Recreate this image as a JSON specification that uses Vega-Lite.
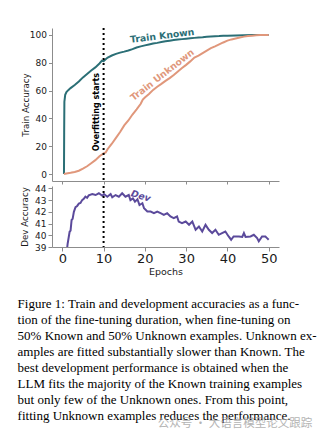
{
  "$schema": "https://vega.github.io/schema/vega-lite/v6.json",
  "padding": {"left": 17, "top": 27, "right": 4, "bottom": 4},
  "config": {
    "view": {"stroke": null},
    "font": "DejaVu Sans",
    "axis": {"grid": false, "domainColor": "#8c8c8c", "tickColor": "#8c8c8c", "labelColor": "#1a1a1a", "titleColor": "#1a1a1a", "titleFontWeight": "normal", "labelFont": "DejaVu Sans", "titleFont": "DejaVu Sans", "labelOverlap": false}
  },
  "columns": 1,
  "bounds": "flush",
  "spacing": 5,
  "concat": [
    {
      "width": 227,
      "height": 153,
      "layer": [
        {
          "data": {"values": [
            {"series": "Train Known", "epoch": 0.4, "acc": 0},
            {"series": "Train Known", "epoch": 0.45, "acc": 30},
            {"series": "Train Known", "epoch": 0.5, "acc": 52},
            {"series": "Train Known", "epoch": 0.7, "acc": 57},
            {"series": "Train Known", "epoch": 1.0, "acc": 59},
            {"series": "Train Known", "epoch": 1.5, "acc": 60.5},
            {"series": "Train Known", "epoch": 2, "acc": 61.8},
            {"series": "Train Known", "epoch": 3, "acc": 64},
            {"series": "Train Known", "epoch": 4, "acc": 66.5},
            {"series": "Train Known", "epoch": 5, "acc": 69.5},
            {"series": "Train Known", "epoch": 6, "acc": 72},
            {"series": "Train Known", "epoch": 7, "acc": 74.5},
            {"series": "Train Known", "epoch": 8, "acc": 76.7},
            {"series": "Train Known", "epoch": 9, "acc": 79.5},
            {"series": "Train Known", "epoch": 9.6, "acc": 81.5},
            {"series": "Train Known", "epoch": 10.0, "acc": 81.2},
            {"series": "Train Known", "epoch": 10.5, "acc": 82.6},
            {"series": "Train Known", "epoch": 11, "acc": 83.8},
            {"series": "Train Known", "epoch": 12, "acc": 85.2},
            {"series": "Train Known", "epoch": 13, "acc": 86.4},
            {"series": "Train Known", "epoch": 14, "acc": 87.3},
            {"series": "Train Known", "epoch": 15, "acc": 88},
            {"series": "Train Known", "epoch": 16, "acc": 88.8},
            {"series": "Train Known", "epoch": 17, "acc": 89.8},
            {"series": "Train Known", "epoch": 18, "acc": 91.0},
            {"series": "Train Known", "epoch": 19, "acc": 91.8},
            {"series": "Train Known", "epoch": 20, "acc": 92.5},
            {"series": "Train Known", "epoch": 21, "acc": 93.2},
            {"series": "Train Known", "epoch": 22, "acc": 93.8},
            {"series": "Train Known", "epoch": 23, "acc": 94.3},
            {"series": "Train Known", "epoch": 24, "acc": 94.9},
            {"series": "Train Known", "epoch": 25, "acc": 95.4},
            {"series": "Train Known", "epoch": 26, "acc": 95.9},
            {"series": "Train Known", "epoch": 27, "acc": 96.3},
            {"series": "Train Known", "epoch": 28, "acc": 96.7},
            {"series": "Train Known", "epoch": 29, "acc": 97.0},
            {"series": "Train Known", "epoch": 30, "acc": 97.3},
            {"series": "Train Known", "epoch": 31, "acc": 97.6},
            {"series": "Train Known", "epoch": 32, "acc": 97.9},
            {"series": "Train Known", "epoch": 33, "acc": 98.2},
            {"series": "Train Known", "epoch": 34, "acc": 98.4},
            {"series": "Train Known", "epoch": 35, "acc": 98.7},
            {"series": "Train Known", "epoch": 36, "acc": 98.9},
            {"series": "Train Known", "epoch": 37, "acc": 99.1},
            {"series": "Train Known", "epoch": 38, "acc": 99.2},
            {"series": "Train Known", "epoch": 39, "acc": 99.4},
            {"series": "Train Known", "epoch": 40, "acc": 99.5},
            {"series": "Train Known", "epoch": 42, "acc": 99.6},
            {"series": "Train Known", "epoch": 44, "acc": 99.8},
            {"series": "Train Known", "epoch": 46, "acc": 99.9},
            {"series": "Train Known", "epoch": 48, "acc": 100},
            {"series": "Train Known", "epoch": 50, "acc": 100},
            {"series": "Train Unknown", "epoch": 0.4, "acc": 0},
            {"series": "Train Unknown", "epoch": 1, "acc": 0.4},
            {"series": "Train Unknown", "epoch": 2, "acc": 0.9},
            {"series": "Train Unknown", "epoch": 3, "acc": 1.5},
            {"series": "Train Unknown", "epoch": 4, "acc": 2.4},
            {"series": "Train Unknown", "epoch": 5, "acc": 3.9},
            {"series": "Train Unknown", "epoch": 6, "acc": 5.6},
            {"series": "Train Unknown", "epoch": 7, "acc": 7.8},
            {"series": "Train Unknown", "epoch": 8, "acc": 10.0},
            {"series": "Train Unknown", "epoch": 9, "acc": 12.8},
            {"series": "Train Unknown", "epoch": 10, "acc": 14.8},
            {"series": "Train Unknown", "epoch": 10.5, "acc": 15.5},
            {"series": "Train Unknown", "epoch": 11, "acc": 18.0},
            {"series": "Train Unknown", "epoch": 12, "acc": 21.8},
            {"series": "Train Unknown", "epoch": 13, "acc": 26.0},
            {"series": "Train Unknown", "epoch": 14, "acc": 30.2},
            {"series": "Train Unknown", "epoch": 15, "acc": 35.0},
            {"series": "Train Unknown", "epoch": 16, "acc": 38.5},
            {"series": "Train Unknown", "epoch": 17, "acc": 42.8},
            {"series": "Train Unknown", "epoch": 18, "acc": 46.5},
            {"series": "Train Unknown", "epoch": 19, "acc": 50.5},
            {"series": "Train Unknown", "epoch": 19.5, "acc": 53.5},
            {"series": "Train Unknown", "epoch": 20, "acc": 55.0},
            {"series": "Train Unknown", "epoch": 21, "acc": 57.5},
            {"series": "Train Unknown", "epoch": 22, "acc": 60.5},
            {"series": "Train Unknown", "epoch": 23, "acc": 62.8},
            {"series": "Train Unknown", "epoch": 24, "acc": 64.8},
            {"series": "Train Unknown", "epoch": 25, "acc": 67.0},
            {"series": "Train Unknown", "epoch": 26, "acc": 69.0},
            {"series": "Train Unknown", "epoch": 27, "acc": 71.2},
            {"series": "Train Unknown", "epoch": 28, "acc": 73.8},
            {"series": "Train Unknown", "epoch": 29, "acc": 76.2},
            {"series": "Train Unknown", "epoch": 30, "acc": 78.5},
            {"series": "Train Unknown", "epoch": 31, "acc": 81.0},
            {"series": "Train Unknown", "epoch": 32, "acc": 83.8},
            {"series": "Train Unknown", "epoch": 33, "acc": 85.2},
            {"series": "Train Unknown", "epoch": 34, "acc": 87.0},
            {"series": "Train Unknown", "epoch": 35, "acc": 88.8},
            {"series": "Train Unknown", "epoch": 36, "acc": 90.5},
            {"series": "Train Unknown", "epoch": 37, "acc": 91.8},
            {"series": "Train Unknown", "epoch": 38, "acc": 93.2},
            {"series": "Train Unknown", "epoch": 39, "acc": 94.6},
            {"series": "Train Unknown", "epoch": 40, "acc": 95.9},
            {"series": "Train Unknown", "epoch": 41, "acc": 96.8},
            {"series": "Train Unknown", "epoch": 42, "acc": 97.5},
            {"series": "Train Unknown", "epoch": 43, "acc": 98.2},
            {"series": "Train Unknown", "epoch": 44, "acc": 98.8},
            {"series": "Train Unknown", "epoch": 45, "acc": 99.2},
            {"series": "Train Unknown", "epoch": 46, "acc": 99.5},
            {"series": "Train Unknown", "epoch": 47, "acc": 99.7},
            {"series": "Train Unknown", "epoch": 48, "acc": 99.9},
            {"series": "Train Unknown", "epoch": 50, "acc": 100}
          ]},
          "mark": {"type": "line", "strokeWidth": 2},
          "encoding": {
            "x": {"field": "epoch", "type": "quantitative", "scale": {"domain": [-2.5, 52.5], "nice": false, "zero": false},
                  "axis": {"values": [0, 10, 20, 30, 40, 50], "tickCount": 20, "labels": false, "title": null, "tickSize": 3}},
            "y": {"field": "acc", "type": "quantitative", "scale": {"domain": [-5, 105], "nice": false, "zero": false},
                  "axis": {"values": [0, 20, 40, 60, 80, 100], "tickCount": 20, "format": "d", "labelOverlap": false, "title": "Train Accuracy", "labelFontSize": 9, "tickSize": 3.5, "labelPadding": 2, "titleFontSize": 8.7, "titleX": -26.4, "titleY": 76.5, "titleBaseline": "middle"}},
            "color": {"field": "series", "type": "nominal", "scale": {"domain": ["Train Known", "Train Unknown"], "range": ["#2b6f76", "#e0977b"]}, "legend": null}
          }
        },
        {
          "data": {"values": [{"epoch": 10}]},
          "mark": {"type": "rule", "color": "black", "strokeWidth": 2, "strokeDash": [2, 3]},
          "encoding": {"x": {"field": "epoch", "type": "quantitative"}}
        },
        {
          "data": {"values": [{"epoch": 8.35, "acc": 44.5, "label": "Overfitting starts"}]},
          "mark": {"type": "text", "angle": 270, "fontWeight": "bold", "fontSize": 8, "color": "black", "align": "center", "baseline": "middle"},
          "encoding": {"x": {"field": "epoch", "type": "quantitative"}, "y": {"field": "acc", "type": "quantitative"}, "text": {"field": "label"}}
        },
        {
          "data": {"values": [{"epoch": 24.2, "acc": 99.3, "label": "Train Known"}]},
          "mark": {"type": "text", "angle": 353, "fontWeight": "bold", "fontSize": 9.3, "color": "#2b6f76", "align": "center", "baseline": "middle"},
          "encoding": {"x": {"field": "epoch", "type": "quantitative"}, "y": {"field": "acc", "type": "quantitative"}, "text": {"field": "label"}}
        },
        {
          "data": {"values": [{"epoch": 24.2, "acc": 71.2, "label": "Train Unknown"}]},
          "mark": {"type": "text", "angle": 322, "fontWeight": "bold", "fontSize": 9.3, "color": "#e0977b", "align": "center", "baseline": "middle"},
          "encoding": {"x": {"field": "epoch", "type": "quantitative"}, "y": {"field": "acc", "type": "quantitative"}, "text": {"field": "label"}}
        }
      ]
    },
    {
      "width": 227,
      "height": 61,
      "layer": [
        {
          "data": {"values": [
            {"epoch": 0.8, "acc": 37.8}, {"epoch": 1.3, "acc": 39.3}, {"epoch": 1.77, "acc": 40.3}, {"epoch": 2.0, "acc": 40.4},
            {"epoch": 2.25, "acc": 41.3}, {"epoch": 2.5, "acc": 41.4}, {"epoch": 2.8, "acc": 42.0}, {"epoch": 3.2, "acc": 42.4},
            {"epoch": 3.6, "acc": 42.5}, {"epoch": 4.0, "acc": 42.7}, {"epoch": 4.4, "acc": 42.75}, {"epoch": 4.8, "acc": 43.0},
            {"epoch": 5.2, "acc": 43.1}, {"epoch": 5.6, "acc": 43.3}, {"epoch": 6.0, "acc": 43.2}, {"epoch": 6.4, "acc": 43.4},
            {"epoch": 7.26, "acc": 43.52}, {"epoch": 8.06, "acc": 43.43}, {"epoch": 8.86, "acc": 43.58}, {"epoch": 9.68, "acc": 43.37},
            {"epoch": 10.1, "acc": 43.52}, {"epoch": 10.9, "acc": 43.29}, {"epoch": 11.7, "acc": 43.52}, {"epoch": 12.1, "acc": 43.24},
            {"epoch": 12.9, "acc": 43.43}, {"epoch": 13.7, "acc": 43.29}, {"epoch": 14.5, "acc": 43.58}, {"epoch": 15.3, "acc": 43.29},
            {"epoch": 16.1, "acc": 43.43}, {"epoch": 16.5, "acc": 43.0}, {"epoch": 17.1, "acc": 43.15}, {"epoch": 17.6, "acc": 42.87},
            {"epoch": 18.2, "acc": 43.07}, {"epoch": 18.7, "acc": 42.58}, {"epoch": 19.4, "acc": 42.73}, {"epoch": 19.8, "acc": 42.3},
            {"epoch": 20.6, "acc": 42.02}, {"epoch": 21.4, "acc": 42.02}, {"epoch": 22.2, "acc": 41.88}, {"epoch": 23.0, "acc": 42.02},
            {"epoch": 23.8, "acc": 41.88}, {"epoch": 24.6, "acc": 41.74}, {"epoch": 25.4, "acc": 41.88}, {"epoch": 26.2, "acc": 41.6},
            {"epoch": 27.0, "acc": 41.46}, {"epoch": 27.8, "acc": 41.6}, {"epoch": 28.2, "acc": 41.17}, {"epoch": 29.0, "acc": 41.03},
            {"epoch": 29.9, "acc": 41.17}, {"epoch": 30.7, "acc": 40.89}, {"epoch": 31.5, "acc": 41.17}, {"epoch": 32.3, "acc": 40.47},
            {"epoch": 33.1, "acc": 40.75}, {"epoch": 33.9, "acc": 40.32}, {"epoch": 34.7, "acc": 40.89}, {"epoch": 35.5, "acc": 40.47},
            {"epoch": 36.3, "acc": 40.19}, {"epoch": 37.1, "acc": 40.47}, {"epoch": 37.9, "acc": 40.04}, {"epoch": 38.7, "acc": 40.19},
            {"epoch": 39.5, "acc": 40.32}, {"epoch": 40.3, "acc": 39.9}, {"epoch": 40.9, "acc": 39.62}, {"epoch": 41.5, "acc": 39.9},
            {"epoch": 42.8, "acc": 39.9}, {"epoch": 43.6, "acc": 39.86}, {"epoch": 44.0, "acc": 40.19}, {"epoch": 44.4, "acc": 39.86},
            {"epoch": 45.6, "acc": 39.9}, {"epoch": 46.4, "acc": 40.04}, {"epoch": 47.2, "acc": 39.76}, {"epoch": 47.6, "acc": 39.48},
            {"epoch": 48.4, "acc": 39.9}, {"epoch": 49.2, "acc": 39.9}, {"epoch": 49.6, "acc": 39.76}, {"epoch": 50.0, "acc": 39.62}
          ]},
          "mark": {"type": "line", "strokeWidth": 2, "color": "#5b4a9b", "clip": true},
          "encoding": {
            "x": {"field": "epoch", "type": "quantitative", "scale": {"domain": [-2.5, 52.5], "nice": false, "zero": false},
                  "axis": {"values": [0, 10, 20, 30, 40, 50], "tickCount": 20, "format": "d", "labelOverlap": false, "title": "Epochs", "labelFontSize": 13, "tickSize": 4, "labelPadding": 1, "titleFontSize": 9.5, "titlePadding": 1}},
            "y": {"field": "acc", "type": "quantitative", "scale": {"domain": [39, 44.2], "nice": false, "zero": false},
                  "axis": {"values": [39, 40, 41, 42, 43, 44], "tickCount": 20, "format": "d", "labelOverlap": false, "title": "Dev Accuracy", "labelFontSize": 9, "tickSize": 4, "labelPadding": 2, "titleFontSize": 8.7, "titleX": -27.8, "titleY": 30.5, "titleBaseline": "middle"}}
          }
        },
        {
          "data": {"values": [{"epoch": 10}]},
          "mark": {"type": "rule", "color": "black", "strokeWidth": 2, "strokeDash": [2, 3]},
          "encoding": {"x": {"field": "epoch", "type": "quantitative"}}
        },
        {
          "data": {"values": [{"epoch": 19.0, "acc": 43.35, "label": "Dev"}]},
          "mark": {"type": "text", "angle": 17, "fontWeight": "bold", "fontStyle": "italic", "fontSize": 9.3, "color": "#5b4a9b", "align": "center", "baseline": "middle"},
          "encoding": {"x": {"field": "epoch", "type": "quantitative"}, "y": {"field": "acc", "type": "quantitative"}, "text": {"field": "label"}}
        }
      ]
    },
    {
      "width": 227,
      "height": 176,
      "layer": [
        {
          "data": {"values": [
            {"line": 1, "text": "Figure 1: Train and development accuracies as a func-"},
            {"line": 2, "text": "tion of the fine-tuning duration, when fine-tuning on"},
            {"line": 3, "text": "50% Known and 50% Unknown examples. Unknown ex-"},
            {"line": 4, "text": "amples are fitted substantially slower than Known. The"},
            {"line": 5, "text": "best development performance is obtained when the"},
            {"line": 6, "text": "LLM fits the majority of the Known training examples"},
            {"line": 7, "text": "but only few of the Unknown ones.  From this point,"},
            {"line": 8, "text": "fitting Unknown examples reduces the performance."}
          ]},
          "mark": {"type": "text", "align": "left", "baseline": "alphabetic", "font": "Liberation Serif", "fontSize": 13, "color": "black"},
          "encoding": {
            "x": {"datum": 0, "type": "quantitative", "scale": {"domain": [0, 1], "range": [-34.4, 260.3]}, "axis": null},
            "y": {"field": "line", "type": "quantitative", "scale": {"domain": [-2.5, 8.5], "reverse": true, "nice": false, "zero": false}, "axis": null},
            "text": {"field": "text"}
          }
        },
        {
          "data": {"values": [{"line": 8.25, "text": "公众号 · 大语言模型论文跟踪"}]},
          "mark": {"type": "text", "align": "right", "baseline": "middle", "font": "Noto Sans CJK SC", "fontSize": 11.5, "color": "#a8a8a8", "opacity": 0.85},
          "encoding": {
            "x": {"datum": 1, "type": "quantitative"},
            "y": {"field": "line", "type": "quantitative"},
            "text": {"field": "text"}
          }
        }
      ]
    }
  ]
}
